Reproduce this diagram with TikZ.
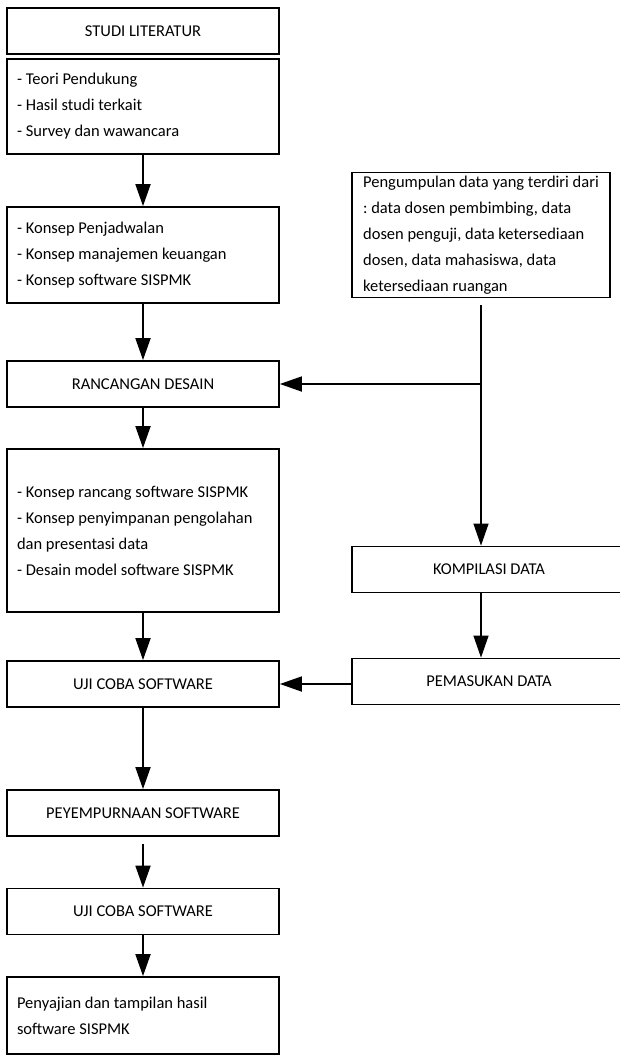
\documentclass[tikz,border=0pt]{standalone}
\usepackage{fontspec}
\setmainfont{Carlito}
\frenchspacing
\usetikzlibrary{arrows.meta}
\newcommand{\teks}{\fontsize{16.5}{26}\selectfont}
\tikzset{
    kotak/.style={draw, line width=1.8pt, minimum height=46pt, inner xsep=10pt, font=\teks},
    judul/.style={kotak, minimum width=272pt, align=center},
    isi/.style={kotak, text width=252pt, align=left, execute at begin node={\spaceskip=0pt\xspaceskip=0pt}},
    panah/.style={-{Triangle[width=15pt,length=22pt]}, line width=1.8pt},
    tipis/.style={-{Triangle[width=15pt,length=22pt]}, line width=1.3pt},
}
\begin{document}
\begin{tikzpicture}[x=1pt, y=-1pt]
    \useasboundingbox (0,0) rectangle (619,1057);

    % left column
    \node[judul] (studi) at (143,31) {STUDI LITERATUR};
    \node[isi, minimum height=95pt] (teori) at (143,106.5) {- Teori Pendukung\\- Hasil studi terkait\\- Survey dan wawancara};
    \node[isi, minimum height=96pt] (konsep) at (143,255) {- Konsep Penjadwalan\\- Konsep manajemen keuangan\\- Konsep software SISPMK};
    \node[judul] (rancangan) at (143,384) {RANCANGAN DESAIN};
    \node[isi, minimum height=163pt] (desain) at (143,530.5) {- Konsep rancang software SISPMK\\- Konsep penyimpanan pengolahan\\dan presentasi data\\- Desain model software SISPMK};
    \node[judul] (uji) at (143,684) {UJI COBA SOFTWARE};
    \node[judul] (sempurna) at (143,813) {PEYEMPURNAAN SOFTWARE};
    \node[judul] (ujiakhir) at (143,911.5) {UJI COBA SOFTWARE};
    \node[isi, minimum height=77pt] (saji) at (143,1015.5) {Penyajian dan tampilan hasil\\software SISPMK};

    % right column
    \node[kotak, minimum width=258pt, align=left] (kumpul) at (481,235) {Pengumpulan data yang terdiri dari\\: data dosen pembimbing, data\\dosen penguji, data ketersediaan\\dosen, data mahasiswa, data\\ketersediaan ruangan};
    \node[judul, minimum width=274pt] (kompilasi) at (489,569.5) {KOMPILASI DATA};
    \node[judul, minimum width=274pt] (masuk) at (489,681.5) {PEMASUKAN DATA};

    % arrows
    \draw[panah] (teori) -- (konsep);
    \draw[panah] (konsep) -- (rancangan);
    \draw[panah] (rancangan) -- (desain);
    \draw[panah] (desain) -- (uji);
    \draw[panah] (uji) -- (sempurna);
    \draw[panah, shorten <=7pt] (sempurna) -- (ujiakhir);
    \draw[panah] (ujiakhir) -- (saji);

    \coordinate (cabang) at (kumpul.south |- rancangan.east);
    \draw[tipis, shorten <=7pt] (kumpul.south) -- (kumpul.south |- kompilasi.north);
    \draw[panah] (cabang) -- (rancangan.east);
    \draw[tipis] (kumpul.south |- kompilasi.south) -- (kumpul.south |- masuk.north);
    \draw[panah] (masuk.west |- uji.east) -- (uji.east);

\end{tikzpicture}
\end{document}
